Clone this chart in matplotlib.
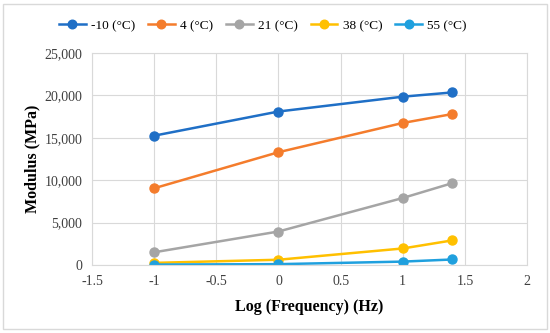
import matplotlib
matplotlib.use("Agg")
import matplotlib.pyplot as plt
from matplotlib.patches import Rectangle
from matplotlib.ticker import FuncFormatter, MultipleLocator

plt.rcParams['font.family'] = ['Liberation Serif', 'DejaVu Serif']

log_freq = [-1, 0, 1, 1.398]
labels = ['-10 (°C)', '4 (°C)', '21 (°C)', '38 (°C)', '55 (°C)']
mod_m10 = [15250, 18100, 19850, 20350]
mod_4 = [9050, 13300, 16750, 17800]
mod_21 = [1500, 3950, 7900, 9650]
mod_38 = [250, 620, 1950, 2900]
mod_55 = [50, 100, 400, 650]
series = [mod_m10, mod_4, mod_21, mod_38, mod_55]
colors = ['#1F6FC6', '#F47C2C', '#A5A5A5', '#FFC000', '#1FA0DE']

fig = plt.figure(figsize=(5.5, 3.33), dpi=100)
ax = fig.add_axes([0.1673, 0.2042, 0.7909, 0.6366])

for vals, lab, c in zip(series, labels, colors):
    ax.plot(log_freq, vals, color=c, lw=1.8, marker='o', ms=6.5, label=lab)

ax.set_xlim(-1.5, 2)
ax.set_ylim(0, 25000)
ax.xaxis.set_major_locator(MultipleLocator(0.5))
ax.yaxis.set_major_locator(MultipleLocator(5000))
ax.xaxis.set_major_formatter(FuncFormatter(lambda v, p: f"{v:g}"))
ax.yaxis.set_major_formatter(FuncFormatter(lambda v, p: f"{int(v):,}"))
ax.grid(True, color='#D9D9D9', lw=0.8)
ax.set_axisbelow(True)
for s in ax.spines.values():
    s.set_color('#D9D9D9')
    s.set_linewidth(0.8)
ax.tick_params(length=0, labelsize=10, colors='#404040', pad=7)
ax.set_xlabel('Log (Frequency) (Hz)', fontsize=11.5, fontweight='bold', labelpad=8)
ax.set_ylabel('Modulus (MPa)', fontsize=11.5, fontweight='bold', labelpad=3)

fig.legend(loc='center', bbox_to_anchor=(0.478, 0.922), ncol=5, frameon=False,
           fontsize=9.5, handlelength=2.0, columnspacing=1.0, handletextpad=0.4,
           markerscale=0.95)

fig.patches.append(Rectangle((0.006, 0.012), 0.988, 0.976, transform=fig.transFigure,
                             fill=False, edgecolor='#D9D9D9', lw=1))

fig.savefig('out.png', dpi=100)
